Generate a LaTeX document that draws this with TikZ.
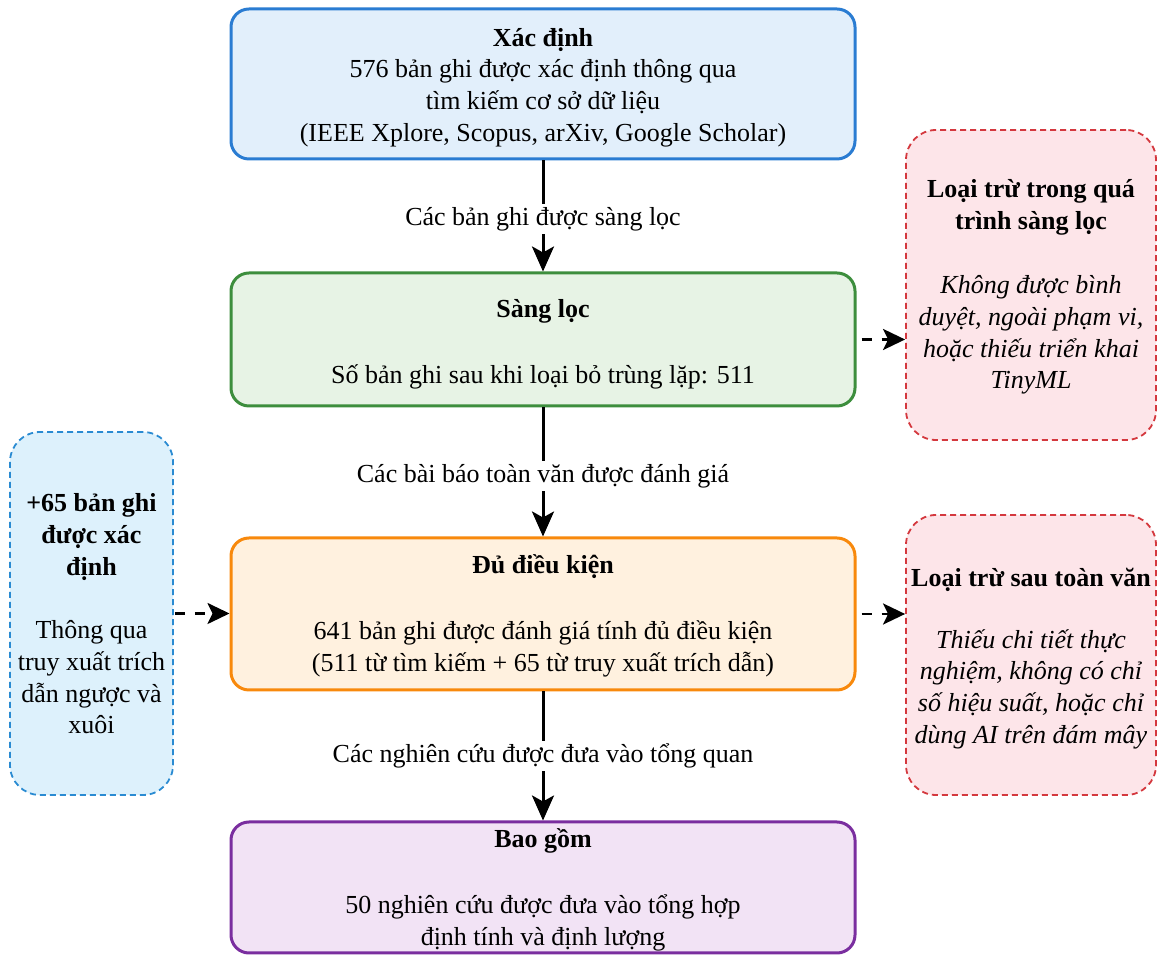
\documentclass[tikz,border=0pt]{standalone}
\usepackage{fontspec}
\setmainfont{Liberation Serif}
\usetikzlibrary{arrows.meta}
\definecolor{bStroke}{HTML}{2A7CD2}
\definecolor{bFill}{HTML}{E2EFFB}
\definecolor{gStroke}{HTML}{3D8E3D}
\definecolor{gFill}{HTML}{E7F3E5}
\definecolor{oStroke}{HTML}{F8890C}
\definecolor{oFill}{HTML}{FFF1DF}
\definecolor{pStroke}{HTML}{7A2E9F}
\definecolor{pFill}{HTML}{F2E3F5}
\definecolor{rStroke}{HTML}{D4383E}
\definecolor{rFill}{HTML}{FDE5E9}
\definecolor{lStroke}{HTML}{2A8BD2}
\definecolor{lFill}{HTML}{DDF1FC}
\tikzset{
  mainbox/.style={draw, line width=3pt, rounded corners=18pt, minimum width=624pt, inner sep=0pt},
  sidebox/.style={draw, line width=1.8pt, dash pattern=on 6pt off 4pt, rounded corners=30pt, inner sep=0pt},
  txt/.style={align=center, font=\fontsize{26}{31.7}\selectfont, inner sep=0pt},
  flow/.style={line width=3pt, -{Stealth[length=25pt, width=22pt, inset=6pt]}},
  dflow/.style={line width=2.6pt, dash pattern=on 10pt off 10pt, -{Stealth[length=22pt, width=21pt, inset=5pt]}},
  lbl/.style={fill=white, font=\fontsize{26}{31.7}\selectfont, inner sep=3pt}
}
\begin{document}
\begin{tikzpicture}[x=1pt, y=1pt]
\useasboundingbox (0,0) rectangle (1157,955);
% main boxes
\node[mainbox, draw=bStroke, fill=bFill, minimum height=150pt] (b1) at (543,871) {};
\node[mainbox, draw=gStroke, fill=gFill, minimum height=133pt] (b2) at (543,615.5) {};
\node[mainbox, draw=oStroke, fill=oFill, minimum height=152pt] (b3) at (543,341) {};
\node[mainbox, draw=pStroke, fill=pFill, minimum height=131pt] (b4) at (543,67.5) {};
% side boxes
\node[sidebox, draw=rStroke, fill=rFill, minimum width=250pt, minimum height=310pt] (r1) at (1031,670) {};
\node[sidebox, draw=rStroke, fill=rFill, minimum width=250pt, minimum height=280pt] (r2) at (1031,300) {};
\node[sidebox, draw=lStroke, fill=lFill, minimum width=163pt, minimum height=363pt] (l1) at (91.5,341.5) {};
% texts
\node[txt] (t1) at (543,867.5) {\textbf{Xác định}\\576 bản ghi được xác định thông qua\\tìm kiếm cơ sở dữ liệu\\(IEEE Xplore, Scopus, arXiv, Google Scholar)};
\node[txt] (t2) at (543,611) {\textbf{Sàng lọc}\\[34pt]Số bản ghi sau khi loại bỏ trùng lặp: 511};
\node[txt] (t3) at (543,339) {\textbf{Đủ điều kiện}\\[34pt]641 bản ghi được đánh giá tính đủ điều kiện\\(511 từ tìm kiếm + 65 từ truy xuất trích dẫn)};
\node[txt] (t4) at (543,65) {\textbf{Bao gồm}\\[34pt]50 nghiên cứu được đưa vào tổng hợp\\định tính và định lượng};
\node[txt] (tr1) at (1031,668) {\textbf{Loại trừ trong quá}\\\textbf{trình sàng lọc}\\[33pt]\textit{Không được bình}\\\textit{duyệt, ngoài phạm vi,}\\\textit{hoặc thiếu triển khai}\\\textit{TinyML}};
\node[txt] (tr2) at (1031,296.5) {\textbf{Loại trừ sau toàn văn}\\[30pt]\textit{Thiếu chi tiết thực}\\\textit{nghiệm, không có chỉ}\\\textit{số hiệu suất, hoặc chỉ}\\\textit{dùng AI trên đám mây}};
\node[txt] (tl1) at (91.5,341) {\textbf{+65 bản ghi}\\\textbf{được xác}\\\textbf{định}\\[32pt]Thông qua\\truy xuất trích\\dẫn ngược và\\xuôi};
% connectors
\draw[flow] (b1.south) -- node[lbl, pos=0.53] (c1) {Các bản ghi được sàng lọc} (b2.north);
\draw[flow] (b2.south) -- node[lbl, pos=0.53] (c2) {Các bài báo toàn văn được đánh giá} (b3.north);
\draw[flow] (b3.south) -- node[lbl, pos=0.5] (c3) {Các nghiên cứu được đưa vào tổng quan} (b4.north);
\draw[dflow] (b2.east) ++(5pt,0) coordinate (s1) (s1) -- (s1 -| r1.west);
\draw[dflow] (b3.east) ++(5pt,0) coordinate (s2) (s2) -- (s2 -| r2.west);
\draw[dflow] (l1.east) ++(1pt,0) coordinate (s3) (s3) -- (s3 -| b3.west);
\end{tikzpicture}
\end{document}
